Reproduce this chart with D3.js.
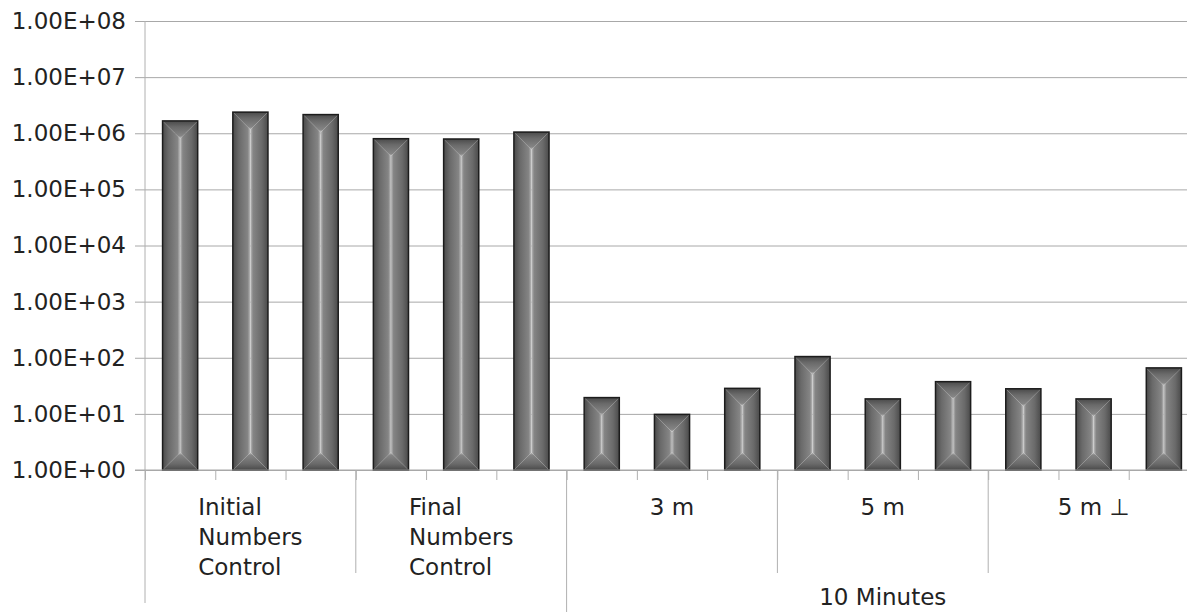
<!DOCTYPE html>
<html>
<head>
<meta charset="utf-8">
<script src="https://cdn.jsdelivr.net/npm/d3@7"></script>
<style>
  body { margin: 0; background: #fff; }
  text { font-family: "DejaVu Sans", sans-serif; fill: #222; }
</style>
</head>
<body>
<script>
// Data
const groupLabels = [["Initial", "Numbers", "Control"], ["Final", "Numbers", "Control"], ["3 m"], ["5 m"], ["5 m \u22A5"]];
const groupStarts = [0, 3, 6, 9, 12, 15];
const values = [1.66e6, 2.38e6, 2.15e6, 8.0e5, 7.9e5, 1.05e6, 19.5, 9.8, 28.5, 105, 18.5, 37.5, 28, 18.5, 66];
const yTicks = [1, 10, 100, 1e3, 1e4, 1e5, 1e6, 1e7, 1e8];
const yTickLabels = ["1.00E+00", "1.00E+01", "1.00E+02", "1.00E+03", "1.00E+04", "1.00E+05", "1.00E+06", "1.00E+07", "1.00E+08"];
const outerLabel = "10 Minutes";
const outerGroups = [2, 5]; // spans groups 2..4

let width = 1187,
    height = 612;

let margin = { top: 21, bottom: 142, left: 145, right: -12 };

let svg = d3.select('body')
  .append('svg')
    .attr('width', width)
    .attr('height', height);

// gradient for the bars (rectangle style: dark edges, light centre)
let defs = svg.append('defs');
function grad(id, x1, y1, x2, y2) {
  let g = defs.append('linearGradient')
    .attr('id', id)
    .attr('x1', x1).attr('y1', y1).attr('x2', x2).attr('y2', y2);
  g.append('stop').attr('offset', '0').attr('stop-color', '#4a4a4a');
  g.append('stop').attr('offset', '0.35').attr('stop-color', '#6a6a6a');
  g.append('stop').attr('offset', '0.85').attr('stop-color', '#858585');
  g.append('stop').attr('offset', '1').attr('stop-color', '#bdbdbd');
}
grad('gL', 0, 0, 1, 0);
grad('gR', 1, 0, 0, 0);
grad('gT', 0, 0, 0, 1);
grad('gB', 0, 1, 0, 0);

// Scales
let yScale = d3.scaleLog()
  .domain([1, 1e8])
  .range([height - margin.bottom, margin.top]);

let xScale = d3.scaleBand()
  .domain(d3.range(values.length))
  .range([margin.left, width - margin.right])
  .paddingInner(0.5)
  .paddingOuter(0.25);

let xEdge = d3.scaleLinear()
  .domain([0, values.length])
  .range([margin.left, width - margin.right]);

let y0 = yScale(1);

// gridlines
svg.append('g')
  .attr('transform', `translate(${margin.left},0)`)
  .call(d3.axisRight(yScale).tickValues(yTicks).tickSize(width - margin.left).tickFormat(''))
  .call(g => g.select('.domain').remove())
  .call(g => g.selectAll('line').attr('stroke', '#a8a8a8').attr('stroke-width', 1));

// y axis
svg.append('g')
  .attr('transform', `translate(${margin.left},0)`)
  .call(d3.axisLeft(yScale).tickValues(yTicks).tickSize(10).tickPadding(9)
    .tickFormat((d, i) => yTickLabels[i]))
  .call(g => g.select('.domain').remove())
  .call(g => g.selectAll('line').attr('stroke', '#a8a8a8'))
  .call(g => g.selectAll('text').style('font-size', '23px').attr('fill', '#222'));

// x axis small ticks
svg.append('g')
  .attr('transform', `translate(0,${y0})`)
  .call(d3.axisBottom(xEdge).tickValues(d3.range(values.length + 1)).tickSize(10).tickFormat(''))
  .call(g => g.select('.domain').remove())
  .call(g => g.selectAll('line').attr('stroke', '#b0b0b0'));

// group separators
let sepEnd = [603, 573, 612, 573, 573, 612];
svg.append('g')
  .selectAll('line')
  .data(groupStarts)
  .enter()
  .append('line')
    .attr('x1', d => xEdge(d))
    .attr('x2', d => xEdge(d))
    .attr('y1', y0)
    .attr('y2', (d, i) => sepEnd[i])
    .attr('stroke', '#b0b0b0');

// vertical axis line
svg.append('line')
  .attr('x1', margin.left).attr('x2', margin.left)
  .attr('y1', margin.top).attr('y2', y0)
  .attr('stroke', '#b0b0b0');

// Bars
let bw = xScale.bandwidth();
let bar = svg.append('g')
  .selectAll('g')
  .data(values)
  .enter()
  .append('g')
    .attr('transform', (d, i) => `translate(${xScale(i)},${yScale(d)})`);

bar.each(function(d) {
  let g = d3.select(this);
  let h = y0 - yScale(d);
  let m = bw / 2;
  g.append('polygon').attr('points', `0,0 ${m},${m} ${m},${h - m} 0,${h}`).attr('fill', 'url(#gL)');
  g.append('polygon').attr('points', `${bw},0 ${m},${m} ${m},${h - m} ${bw},${h}`).attr('fill', 'url(#gR)');
  g.append('polygon').attr('points', `0,0 ${bw},0 ${m},${m}`).attr('fill', 'url(#gT)');
  g.append('polygon').attr('points', `0,${h} ${bw},${h} ${m},${h - m}`).attr('fill', 'url(#gB)');
  g.append('rect')
    .attr('width', bw)
    .attr('height', h)
    .attr('fill', 'none')
    .attr('stroke', '#1c1c1c')
    .attr('stroke-width', 1.5);
});

// axis baseline
svg.append('line')
  .attr('x1', margin.left - 10).attr('x2', width)
  .attr('y1', y0).attr('y2', y0)
  .attr('stroke', '#a8a8a8');

// group labels (wrapped, left aligned block centred in group)
groupLabels.forEach(function(lines, i) {
  let cx = (xEdge(groupStarts[i]) + xEdge(groupStarts[i + 1])) / 2;
  let t = svg.append('text')
    .style('font-size', '23px');
  lines.forEach(function(s, j) {
    t.append('tspan').attr('y', 515 + j * 30).text(s);
  });
  let maxW = d3.max(t.selectAll('tspan').nodes(), n => n.getComputedTextLength());
  t.selectAll('tspan').attr('x', cx - maxW / 2);
});

svg.append('text')
  .attr('x', (xEdge(groupStarts[outerGroups[0]]) + xEdge(groupStarts[outerGroups[1]])) / 2)
  .attr('y', 605)
  .attr('text-anchor', 'middle')
  .style('font-size', '23px')
  .text(outerLabel);
</script>
</body>
</html>
